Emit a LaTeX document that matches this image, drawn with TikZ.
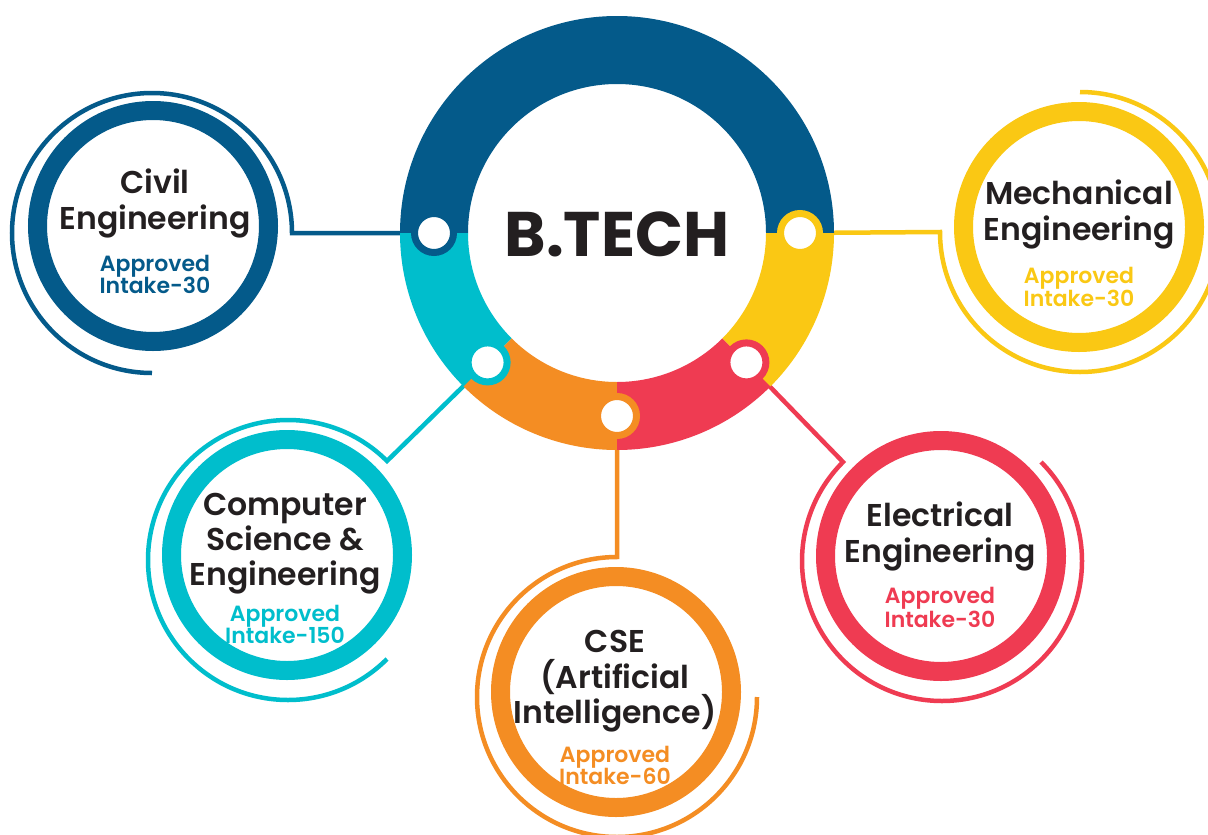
\documentclass[tikz,border=0pt]{standalone}
\usepackage{fontspec}
\setmainfont{Poppins}
\newfontfamily\popsemi{Poppins}[UprightFont={* SemiBold}]
\usetikzlibrary{calc}
\definecolor{cblue}{RGB}{4,90,138}
\definecolor{ccyan}{RGB}{0,190,204}
\definecolor{corange}{RGB}{244,141,35}
\definecolor{cred}{RGB}{239,59,82}
\definecolor{cyellow}{RGB}{250,200,20}
\definecolor{ctext}{RGB}{35,31,32}
\begin{document}
\begin{tikzpicture}[x=1pt,y=-1pt,
  link/.style={line width=4.5pt, draw=#1},
  bigring/.style={line width=19pt, draw=#1, fill=white},
  dotnode/.style={circle, fill=white, draw=#1, line width=7pt, minimum size=39pt, inner sep=0pt},
  titletext/.style={font=\fontsize{63}{63}\selectfont\bfseries, text=ctext, inner sep=0pt, anchor=base},
  nametext/.style={font=\fontsize{31.5}{31.5}\popsemi, text=ctext, inner sep=0pt, anchor=base},
  intaketext/.style={font=\fontsize{22}{22}\popsemi, text=#1, inner sep=0pt, anchor=base},
]
\useasboundingbox[fill=white] (0,0) rectangle (1208,835);

% centre of the B.TECH ring and the points where branches leave it
\coordinate (O) at (617,233);
\coordinate (p1) at ($(O)+(180:183)$);
\coordinate (p2) at ($(O)+(0:183)$);
\coordinate (p3) at ($(O)+(135:183)$);
\coordinate (p4) at ($(O)+(90:183)$);
\coordinate (p5) at ($(O)+(45:183)$);

% centres of the thin arcs and of the thick rings
\coordinate (T1) at (152,233);  \coordinate (K1) at (153,226);
\coordinate (T2) at (1080,232); \coordinate (K2) at (1079,227);
\coordinate (T3) at (288,560);  \coordinate (K3) at (287,555);
\coordinate (T4) at (617,697);  \coordinate (K4) at (616,692);
\coordinate (T5) at (942,561);  \coordinate (K5) at (941,556);

\coordinate (e1) at ($(T1)+(0:140)$);
\coordinate (e2) at ($(T2)+(180:140)$);
\coordinate (e3) at ($(T3)+(-45:140)$);
\coordinate (e4) at ($(T4)+(-90:140)$);
\coordinate (e5) at ($(T5)+(-135:140)$);

% connectors with their thin arcs
\draw[link=cblue]   (p1) -- (e1) arc[start angle=0,    end angle=-270, radius=140];
\draw[link=cyellow] (p2) -- (e2) arc[start angle=180,  end angle=-90,  radius=140];
\draw[link=ccyan]   (p3) -- (e3) arc[start angle=-45,  end angle=-315, radius=140];
\draw[link=corange] (p4) -- (e4) arc[start angle=-90,  end angle=-360, radius=140];
\draw[link=cred]    (p5) -- (e5) arc[start angle=-135, end angle=-405, radius=140];

% thick rings
\draw[bigring=cblue]   (K1) circle[radius=115.5];
\draw[bigring=cyellow] (K2) circle[radius=115.5];
\draw[bigring=ccyan]   (K3) circle[radius=115.5];
\draw[bigring=corange] (K4) circle[radius=115.5];
\draw[bigring=cred]    (K5) circle[radius=115.5];

% central ring
\foreach \a/\b/\c in {0/-180/cblue, 180/135/ccyan, 135/90/corange, 90/45/cred, 45/0/cyellow}
  \fill[\c] ($(O)+(\a:217)$) arc[start angle=\a, end angle=\b, radius=217]
    -- ($(O)+(\b:149)$) arc[start angle=\b, end angle=\a, radius=149] -- cycle;

% junction dots
\node[dotnode=cblue]   (d1) at (p1) {};
\node[dotnode=cyellow] (d2) at (p2) {};
\node[dotnode=ccyan]   (d3) at (p3) {};
\node[dotnode=corange] (d4) at (p4) {};
\node[dotnode=cred]    (d5) at (p5) {};

% texts
\node[titletext] (title) at (617,256) {B.TECH};

\node[nametext] (n1a) at (155,193) {Civil};
\node[nametext] (n1b) at (155,229) {Engineering};
\node[intaketext=cblue] (i1a) at (155,271) {Approved};
\node[intaketext=cblue] (i1b) at (155,293) {Intake-30};

\node[nametext] (n2a) at (1079,204) {Mechanical};
\node[nametext] (n2b) at (1079,240) {Engineering};
\node[intaketext=cyellow] (i2a) at (1079,283) {Approved};
\node[intaketext=cyellow] (i2b) at (1079,306) {Intake-30};

\node[nametext] (n3a) at (285,515) {Computer};
\node[nametext] (n3b) at (285,550) {Science \&};
\node[nametext] (n3c) at (285,585) {Engineering};
\node[intaketext=ccyan] (i3a) at (285,621) {Approved};
\node[intaketext=ccyan] (i3b) at (285,643) {Intake-150};

\node[nametext] (n4a) at (615,652) {CSE};
\node[nametext] (n4b) at (615,688) {(Artificial};
\node[nametext] (n4c) at (615,723) {Intelligence)};
\node[intaketext=corange] (i4a) at (615,762) {Approved};
\node[intaketext=corange] (i4b) at (615,784) {Intake-60};

\node[nametext] (n5a) at (940,526) {Electrical};
\node[nametext] (n5b) at (940,562) {Engineering};
\node[intaketext=cred] (i5a) at (940,603) {Approved};
\node[intaketext=cred] (i5b) at (940,627) {Intake-30};
\end{tikzpicture}
\end{document}
